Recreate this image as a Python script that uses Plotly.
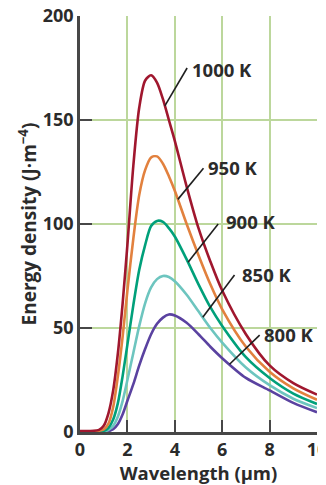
import numpy as np
import plotly.graph_objects as go

# ---- data ----
wavelength = [0, 0.8, 1.0, 1.2, 1.4, 1.6, 1.8, 2.0, 2.25, 2.5, 2.75, 3.0, 3.25,
              3.5, 3.75, 4.0, 4.5, 5.0, 5.5, 6.0, 7.0, 8.0, 9.0, 10.0]
e_1000 = [0.5, 1.0, 3.0, 9.0, 20, 38, 62, 90, 128, 156, 169, 171.5, 168,
          160, 150, 140, 118, 98, 82, 68, 47, 32, 23.5, 18]
e_950 = [0.3, 0.6, 1.2, 4.0, 12, 27, 46, 68, 93, 114, 126, 132, 132.5,
         129, 123, 116, 100, 85, 71, 59, 41, 29, 21, 15.5]
e_900 = [0.2, 0.3, 0.5, 2.0, 6, 14, 27, 42, 61, 78, 90, 99, 101.5,
         101, 98, 94, 83, 71, 60, 51, 36, 26, 18.5, 13.5]
e_850 = [0.1, 0.1, 0.2, 1.0, 3, 7.5, 15, 25, 38, 51, 62, 69.5, 73.5,
         75, 74.5, 72.5, 66, 58, 50, 43, 31, 22.5, 16, 11.5]
e_800 = [0.0, 0.0, 0.1, 0.4, 1.3, 3.8, 8.5, 15, 23, 32, 40, 47, 52,
         55, 56.5, 56, 52.5, 47, 41, 35.5, 26, 20, 14, 9.5]

series_names = ["1000 K", "950 K", "900 K", "850 K", "800 K"]
series_values = [e_1000, e_950, e_900, e_850, e_800]
series_colors = ["#A0172E", "#E2813E", "#00A07A", "#6DC5BF", "#5A42A0"]

# label placement: (point on curve x, leader end x, leader end y, text x, text y)
label_pos = [
    (3.58, 4.52, 175.0, 4.66, 174.5),
    (4.13, 5.21, 126.8, 5.33, 127.4),
    (4.56, 5.83, 100.0, 6.07, 101.0),
    (5.18, 6.52, 75.5, 6.77, 75.7),
    (6.31, 7.58, 46.6, 7.66, 47.1),
]

x_ticks = [0, 2, 4, 6, 8, 10]
y_ticks = [0, 50, 100, 150, 200]

FONT = "Open Sans"
TXT = "#2b2b2b"
AXIS = "#474747"
GRID = "#BCD79C"

fig = go.Figure()
for name, vals, col in zip(series_names[::-1], series_values[::-1], series_colors[::-1]):
    fig.add_trace(go.Scatter(
        x=wavelength, y=vals, mode="lines", name=name,
        line=dict(color=col, width=2.6, shape="spline", smoothing=0.8),
        hoverinfo="skip", showlegend=False, cliponaxis=True,
    ))

shapes = []
annotations = []
for name, vals, (cx, lx, ly, tx, ty) in zip(series_names, series_values, label_pos):
    cy = float(np.interp(cx, wavelength, vals))
    shapes.append(dict(type="line", xref="x", yref="y", x0=cx, y0=cy, x1=lx, y1=ly,
                       line=dict(color="#1f1f1f", width=1.6)))
    annotations.append(dict(x=tx, y=ty, xref="x", yref="y", text=name, showarrow=False,
                            xanchor="left", yanchor="middle",
                            font=dict(family=FONT, size=18.5, color=TXT, weight="bold")))

# page body has an 8px margin, so the figure is sized/placed to compensate
fig.update_layout(
    width=318, height=477,
    margin=dict(l=72, r=9, t=8, b=53, autoexpand=False),
    paper_bgcolor="white", plot_bgcolor="white",
    shapes=shapes, annotations=annotations,
    font=dict(family=FONT, color=TXT),
)
fig.update_xaxes(
    range=[0, 10], tickvals=x_ticks, ticktext=[str(v) for v in x_ticks],
    automargin=False, ticklabeloverflow="allow",
    showgrid=True, gridcolor=GRID, gridwidth=1.6,
    showline=True, linecolor=AXIS, linewidth=2.6, zeroline=False,
    ticks="inside", ticklen=12, tickwidth=2, tickcolor=AXIS,
    tickfont=dict(family=FONT, size=18, color=TXT, weight="bold"),
    title=dict(text="Wavelength (μm)", standoff=2,
               font=dict(family=FONT, size=18.5, color=TXT, weight="bold")),
)
fig.update_yaxes(
    range=[0, 200], tickvals=y_ticks, ticktext=[str(v) for v in y_ticks],
    automargin=False, ticklabeloverflow="allow",
    showgrid=True, gridcolor=GRID, gridwidth=1.6,
    showline=True, linecolor=AXIS, linewidth=2.6, zeroline=False,
    ticks="inside", ticklen=12, tickwidth=2, tickcolor=AXIS,
    tickfont=dict(family=FONT, size=18, color=TXT, weight="bold"),
    title=dict(text="Energy density (J·m<sup>−4</sup>)", standoff=2,
               font=dict(family=FONT, size=19, color=TXT, weight="bold")),
)

fig.write_html("out.html")
